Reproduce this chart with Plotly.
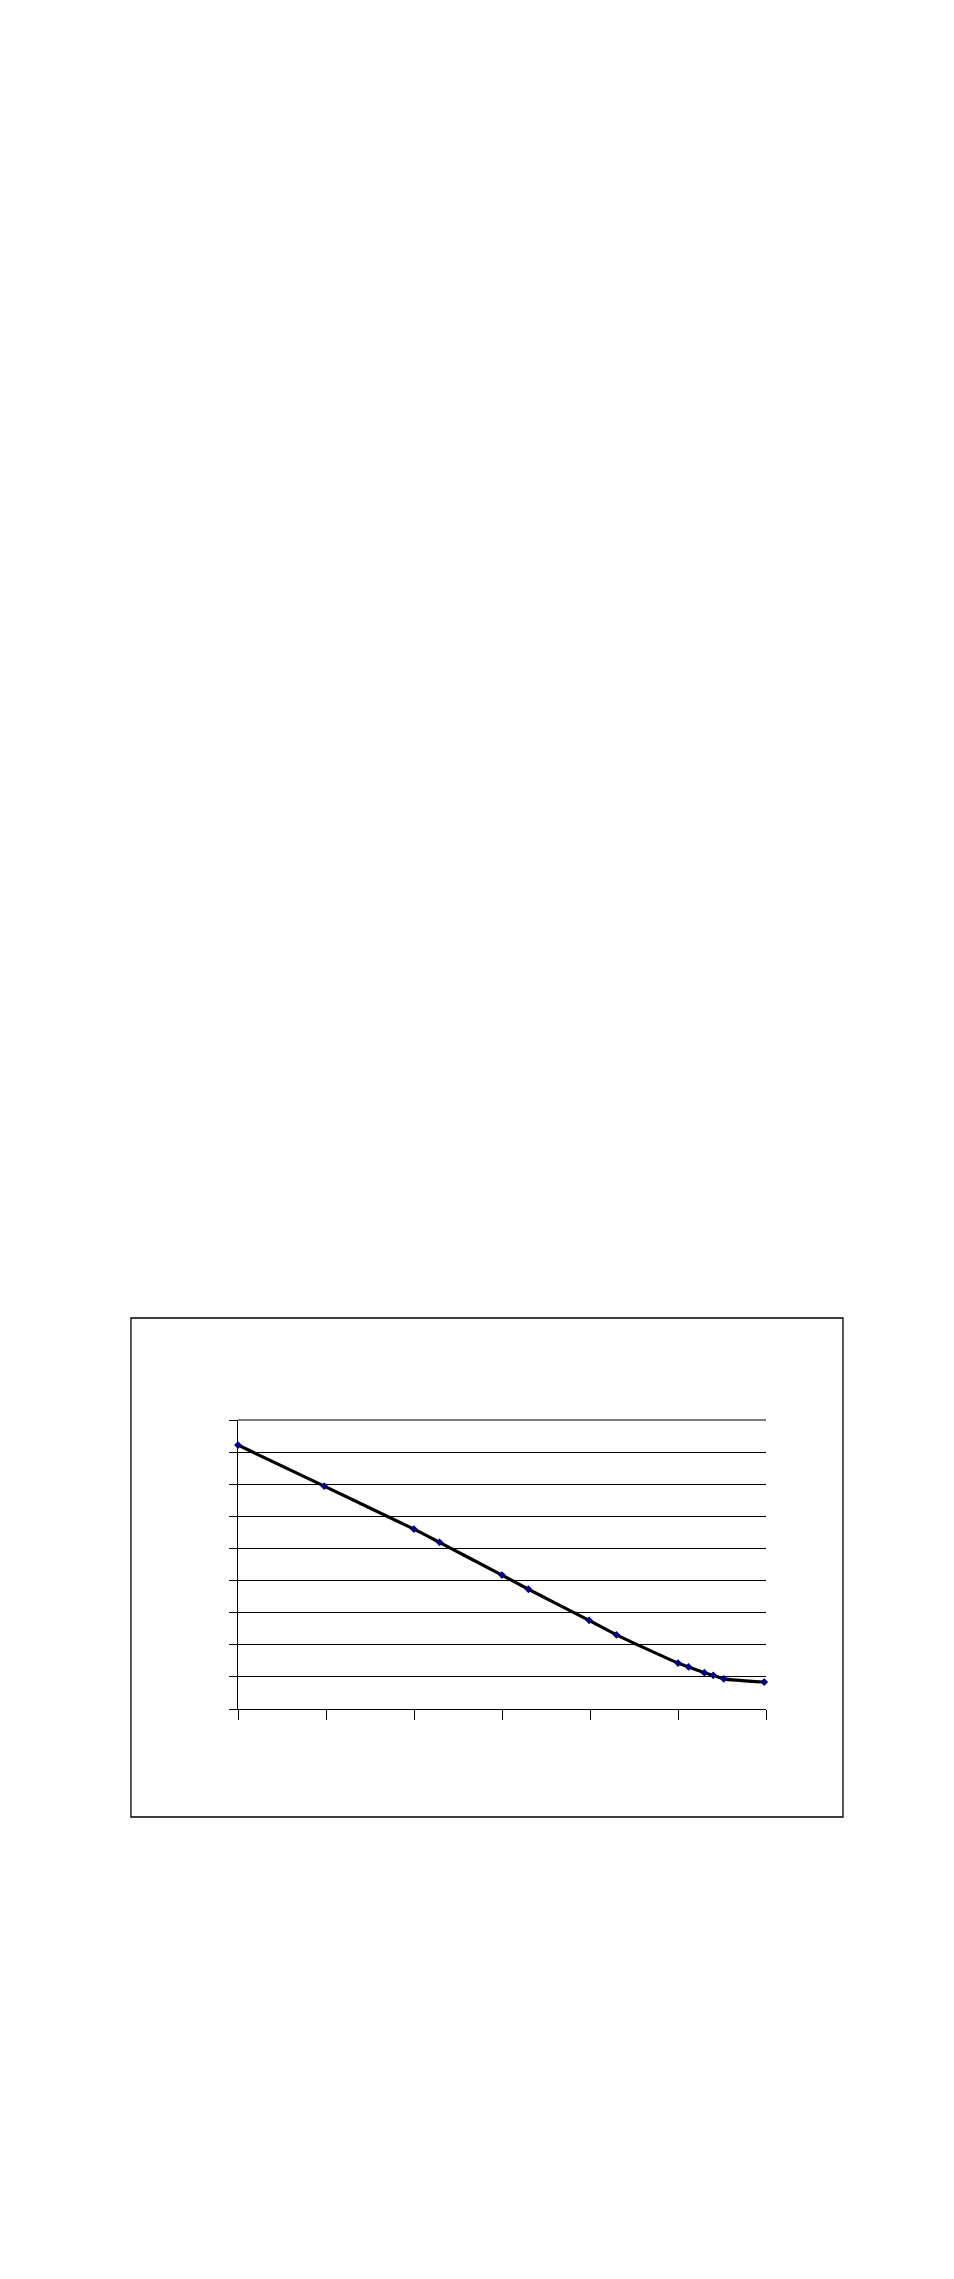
import plotly.graph_objects as go

# values (no axis labels in the original)
x_vals = [0.0, 0.98, 2.0, 2.29, 3.0, 3.30, 3.99, 4.30, 5.0, 5.12, 5.30, 5.40, 5.52, 5.98]
y_vals = [8.22, 6.94, 5.60, 5.19, 4.17, 3.73, 2.76, 2.31, 1.43, 1.31, 1.13, 1.05, 0.94, 0.84]

x_ticks = [0, 1, 2, 3, 4, 5, 6]
y_ticks = [0, 1, 2, 3, 4, 5, 6, 7, 8, 9]

fig = go.Figure()
fig.add_trace(go.Scatter(
    x=x_vals, y=y_vals,
    mode="lines+markers",
    line=dict(color="black", width=3.2, shape="spline", smoothing=0.6),
    marker=dict(symbol="diamond", size=6, color="#000080"),
    showlegend=False,
    cliponaxis=False,
))

# outer chart frame
fig.add_shape(type="rect", xref="paper", yref="paper",
              x0=-0.2027, x1=1.1458, y0=-0.3737, y1=1.353,
              line=dict(color="black", width=1.3))
# top gridline (plotly skips the one sitting on the range edge)
fig.add_shape(type="line", xref="paper", yref="paper",
              x0=0, x1=1, y0=1, y1=1,
              line=dict(color="black", width=1.2))

fig.update_xaxes(range=[0, 6], tickvals=x_ticks, showticklabels=False,
                 ticks="outside", ticklen=10, tickcolor="black", tickwidth=1.2,
                 showgrid=False, zeroline=False,
                 showline=True, linecolor="black", linewidth=1.2)
fig.update_yaxes(range=[0, 9], tickvals=y_ticks, showticklabels=False,
                 ticks="outside", ticklen=8, tickcolor="black", tickwidth=1.2,
                 showgrid=True, gridcolor="black", gridwidth=1.2, zeroline=False,
                 showline=True, linecolor="black", linewidth=1.2)

fig.update_layout(
    width=938, height=2263, autosize=False,
    margin=dict(l=230, r=180, t=1412, b=562),
    plot_bgcolor="white", paper_bgcolor="white",
)

fig.write_html("out.html")
